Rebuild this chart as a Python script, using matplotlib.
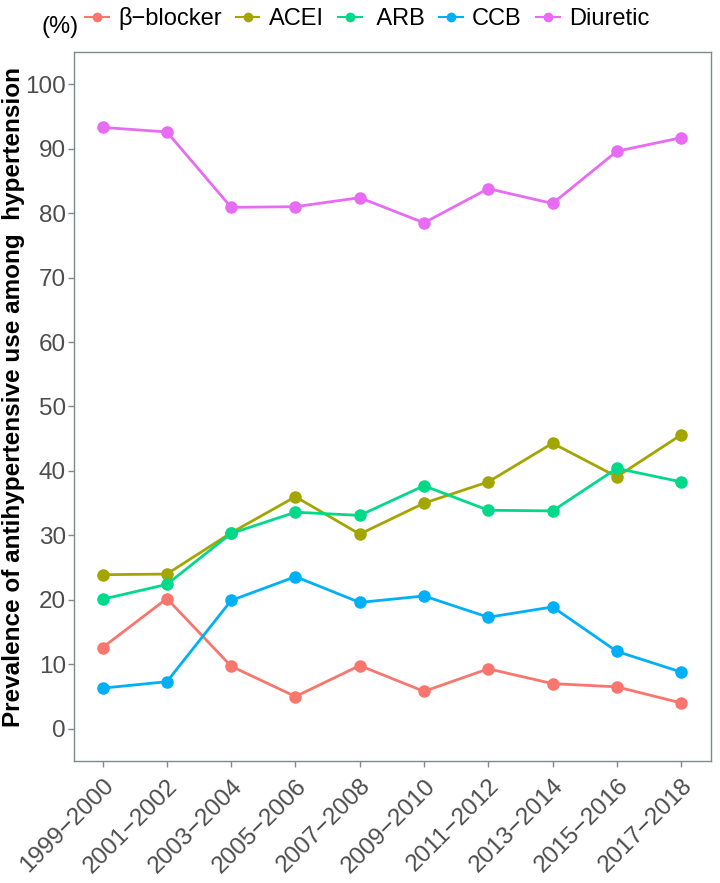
import matplotlib.pyplot as plt
from matplotlib.lines import Line2D

plt.rcParams["font.family"] = ["Liberation Sans", "DejaVu Sans"]

periods = ["1999\u22122000", "2001\u22122002", "2003\u22122004", "2005\u22122006",
           "2007\u22122008", "2009\u22122010", "2011\u22122012", "2013\u22122014",
           "2015\u22122016", "2017\u22122018"]

beta_blocker = [12.6, 20.2, 9.7, 5.0, 9.8, 5.8, 9.3, 7.0, 6.5, 4.0]
acei = [23.9, 24.0, 30.4, 36.0, 30.2, 35.0, 38.3, 44.3, 39.1, 45.6]
arb = [20.1, 22.4, 30.3, 33.6, 33.1, 37.7, 33.9, 33.8, 40.4, 38.3]
ccb = [6.3, 7.3, 19.9, 23.6, 19.6, 20.6, 17.3, 18.9, 12.0, 8.8]
diuretic = [93.3, 92.6, 80.9, 81.0, 82.4, 78.5, 83.8, 81.5, 89.6, 91.7]

series = [
    ("\u03b2\u2212blocker", beta_blocker, "#F8766D"),
    ("ACEI", acei, "#A3A500"),
    (" ARB", arb, "#00D98A"),
    ("CCB", ccb, "#00B0F6"),
    ("Diuretic", diuretic, "#E76BF3"),
]

fig = plt.figure(figsize=(7.2, 8.83), dpi=100)
ax = fig.add_axes([0.1032, 0.1382, 0.9871 - 0.1032, 0.9411 - 0.1382])

x = list(range(len(periods)))
handles = []
for name, vals, col in series:
    ax.plot(x, vals, color=col, lw=2.0, marker="o", ms=8, mec=col, mfc=col)
    handles.append(Line2D([], [], color=col, lw=1.5, marker="o", ms=6, label=name))

ax.set_xlim(-0.44, 9.46)
ax.set_ylim(-5, 105)
ax.set_yticks(range(0, 101, 10))
ax.set_xticks(x)
ax.set_xticklabels(periods, rotation=45, ha="right", rotation_mode="anchor")
ax.tick_params(colors="#7F8A8A", labelcolor="#4D4D4D", labelsize=17.5, length=4, width=1)
ax.tick_params(axis="x", pad=6)
ax.tick_params(axis="y", pad=2)
for s in ax.spines.values():
    s.set_color("#7F8A8A")
    s.set_linewidth(1.0)

ax.set_ylabel("Prevalence of antihypertensive use among  hypertension",
              fontsize=17.5, fontweight="bold", va="center")
ax.yaxis.set_label_coords(-0.095, 0.513)

fig.text(0.058, 0.969, "(%)", fontsize=17, ha="left", va="center")
fig.legend(handles=handles, loc="center", bbox_to_anchor=(0.51, 0.979), ncol=5,
           frameon=False, fontsize=17, handlelength=1.0, handletextpad=0.4,
           columnspacing=0.6, borderaxespad=0)

fig.savefig("out.png", dpi=100)
